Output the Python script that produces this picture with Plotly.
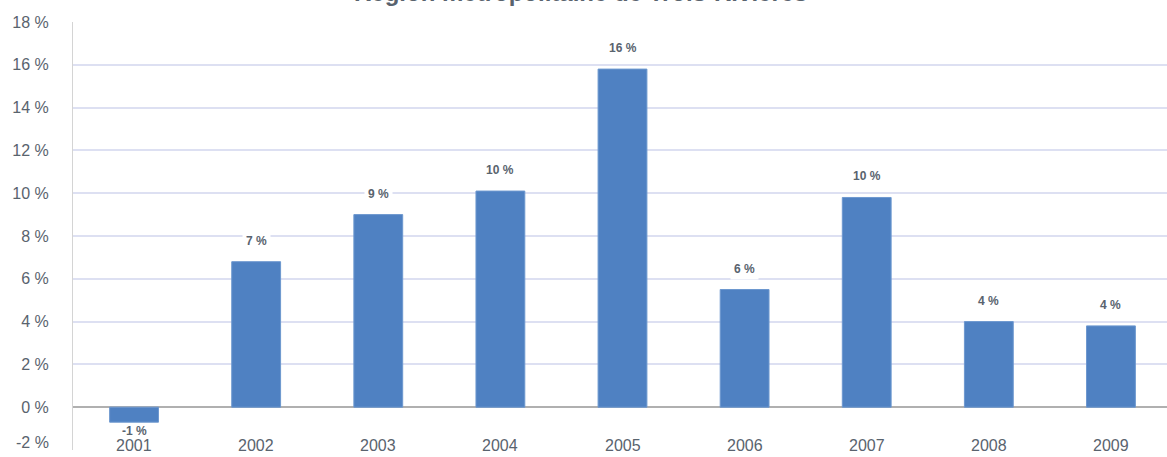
import plotly.graph_objects as go

# Croissance annuelle (%) — Région métropolitaine de Trois-Rivières
years = ["2001", "2002", "2003", "2004", "2005", "2006", "2007", "2008", "2009"]
growth = [-0.7, 6.8, 9.0, 10.1, 15.8, 5.5, 9.8, 4.0, 3.8]
y_ticks = [-2, 0, 2, 4, 6, 8, 10, 12, 14, 16, 18]
y_tick_text = [f"{v} %" for v in y_ticks]

bar_color = "#4f81c2"
text_color = "#59636e"

fig = go.Figure(
    go.Bar(
        x=years,
        y=growth,
        marker=dict(color=bar_color, line=dict(color="#6d98cf", width=1)),
        width=0.4,
        hoverinfo="skip",
    )
)

# Value labels on a white box, above positive bars and below negative ones
for i, v in enumerate(growth):
    fig.add_annotation(
        x=i, y=v, text=f"<b>{v:.0f} %</b>", showarrow=False,
        yshift=21 if v >= 0 else -9,
        font=dict(family="Arial", size=12, color=text_color),
        bgcolor="white" if v >= 0 else "rgba(0,0,0,0)", borderpad=3,
    )

# Year labels sit at the bottom of the value axis
for i, yr in enumerate(years):
    fig.add_annotation(
        x=i, y=y_ticks[0], text=yr, showarrow=False, yshift=5,
        font=dict(family="Arial", size=16, color=text_color),
    )

# Lowest tick label, lifted slightly off the bottom edge
fig.add_annotation(
    xref="paper", x=0, y=y_ticks[0], text=y_tick_text[0], showarrow=False,
    xanchor="right", xshift=-22, yshift=8,
    font=dict(family="Arial", size=16, color=text_color),
)

# Title centred on the whole figure rather than the plot area
fig.add_annotation(
    xref="paper", yref="paper", x=0.5, y=1, yanchor="middle",
    xshift=-42, yshift=30,
    text="<b>Région métropolitaine de Trois-Rivières</b>", showarrow=False,
    font=dict(family="Arial", size=24, color=text_color),
)

fig.update_layout(
    width=1172, height=475,
    margin=dict(l=73, r=0, t=22, b=25),
    paper_bgcolor="white", plot_bgcolor="white",
    showlegend=False,
    xaxis=dict(
        type="category",
        range=[-0.5, len(years) - 0.5],
        showticklabels=False,
        showgrid=False, showline=False, ticks="",
    ),
    yaxis=dict(
        range=[y_ticks[0], y_ticks[-1]],
        tickvals=y_ticks[1:], ticktext=y_tick_text[1:],
        tickfont=dict(family="Arial", size=16, color=text_color),
        gridcolor="#dde0f2", gridwidth=1.5,
        zeroline=True, zerolinecolor="#b0b0b0", zerolinewidth=1.5,
        showline=True, linecolor="#d4d4d4", linewidth=1,
        ticks="outside", ticklen=20, tickcolor="rgba(0,0,0,0)",
    ),
)

fig.write_html("out.html")
